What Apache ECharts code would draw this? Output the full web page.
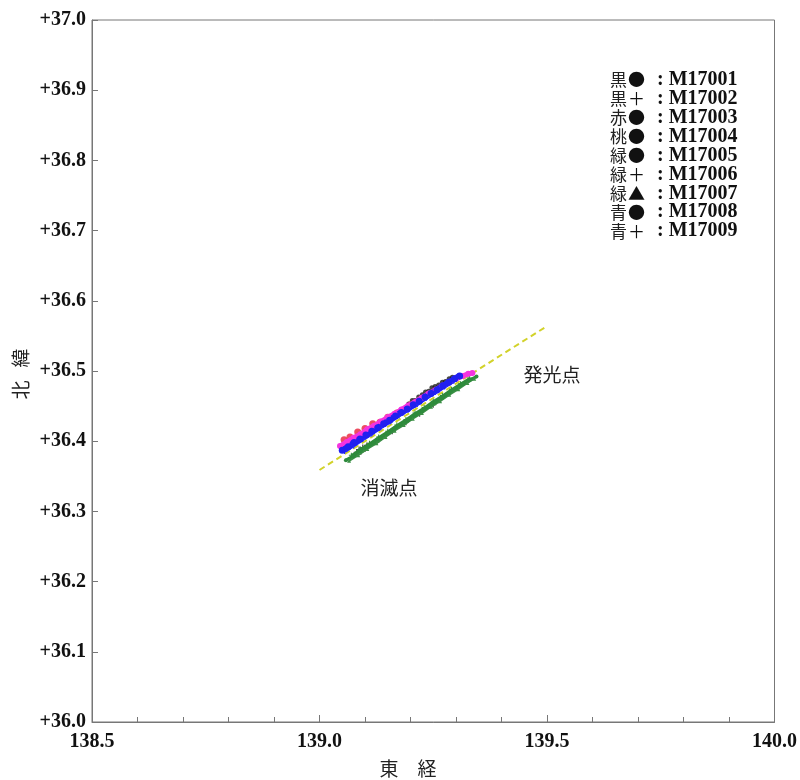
<!DOCTYPE html>
<html><head><meta charset="utf-8">
<script src="https://cdn.jsdelivr.net/npm/echarts@6/dist/echarts.min.js"></script>
<style>html,body{margin:0;padding:0;background:#fff}#c{width:800px;height:780px}</style>
</head><body><div id="c"></div>
<script>
// ---- data ----
const xTicks = [138.5, 139.0, 139.5, 140.0];
const yTicks = [36.0, 36.1, 36.2, 36.3, 36.4, 36.5, 36.6, 36.7, 36.8, 36.9, 37.0];
const trajectory = [[139.0, 36.359], [139.5, 36.564]];

const m17001 = [[139.196,36.453],[139.204,36.458],[139.210,36.458],[139.218,36.463],[139.226,36.466],[139.233,36.470],[139.240,36.471],[139.247,36.476],[139.254,36.478],[139.262,36.480],[139.270,36.484],[139.277,36.485],[139.285,36.489],[139.292,36.491]];
const m17002 = [[139.082,36.384],[139.087,36.388],[139.091,36.385],[139.095,36.391],[139.100,36.389],[139.104,36.394],[139.110,36.395],[139.130,36.402],[139.160,36.414],[139.190,36.427],[139.220,36.439],[139.250,36.452]];
const m17003 = [[139.054,36.402],[139.067,36.406],[139.084,36.413],[139.100,36.418],[139.117,36.425],[139.133,36.427],[139.150,36.434],[139.170,36.440],[139.200,36.452]];
const m17004 = [[139.045,36.393],[139.060,36.399],[139.075,36.405],[139.090,36.410],[139.105,36.417],[139.120,36.422],[139.135,36.428],[139.150,36.434],[139.165,36.439],[139.180,36.445],[139.195,36.451],[139.210,36.456],[139.225,36.462],[139.240,36.468],[139.255,36.473],[139.270,36.479],[139.285,36.484],[139.300,36.489],[139.315,36.493],[139.327,36.496],[139.336,36.497]];
const m17005 = [[139.058,36.373],[139.075,36.379],[139.090,36.386],[139.105,36.392],[139.120,36.398],[139.135,36.405],[139.150,36.411],[139.165,36.418],[139.180,36.424],[139.195,36.430],[139.210,36.437],[139.225,36.443],[139.240,36.449],[139.255,36.456],[139.270,36.462],[139.285,36.469],[139.300,36.475],[139.315,36.481],[139.330,36.487],[139.345,36.492]];
const m17006 = [[139.070,36.380],[139.090,36.389],[139.110,36.397],[139.130,36.406],[139.150,36.414],[139.170,36.423],[139.190,36.431],[139.210,36.440],[139.230,36.448],[139.250,36.457],[139.270,36.465],[139.290,36.474],[139.310,36.482],[139.330,36.490]];
const m17007 = [[139.065,36.372],[139.085,36.380],[139.105,36.389],[139.125,36.397],[139.145,36.406],[139.165,36.415],[139.185,36.423],[139.205,36.432],[139.225,36.440],[139.245,36.449],[139.265,36.457],[139.285,36.466],[139.305,36.474],[139.325,36.483],[139.340,36.489]];
const m17008 = [[139.050,36.387],[139.063,36.392],[139.076,36.398],[139.089,36.403],[139.102,36.409],[139.115,36.414],[139.128,36.419],[139.141,36.425],[139.154,36.430],[139.167,36.436],[139.180,36.441],[139.193,36.446],[139.206,36.452],[139.219,36.457],[139.232,36.463],[139.245,36.468],[139.258,36.473],[139.271,36.479],[139.284,36.484],[139.297,36.489],[139.308,36.493]];
const m17009 = [[139.055,36.386],[139.075,36.394],[139.095,36.403],[139.115,36.411],[139.135,36.420],[139.155,36.428],[139.175,36.437],[139.195,36.445],[139.215,36.453],[139.235,36.462],[139.255,36.470],[139.275,36.478],[139.295,36.486]];

const legendColorWords = ['黒','黒','赤','桃','緑','緑','緑','青','青'];
const legendMarks = ['●','＋','●','●','●','＋','▲','●','＋'];
const legendCodes = ['M17001','M17002','M17003','M17004','M17005','M17006','M17007','M17008','M17009'];
const annotations = [{text:'発光点', at:[139.511, 36.495]}, {text:'消滅点', at:[139.153, 36.333]}];
const xName = '東　経';
const yName = '北   緯';

// ---- chart ----
const PLUS = 'path://M4,0H6V4H10V6H6V10H4V6H0V4H4Z';
function sc(name, data, color, symbol, size) {
  return {name, type:'scatter', data, symbol, symbolSize:size, itemStyle:{color}, silent:true};
}
function band(name, data, color, symbol, size, width) {
  return {name, type:'line', data, symbol, symbolSize:size, showSymbol:true, itemStyle:{color}, lineStyle:{color, width}, silent:true};
}
const chart = echarts.init(document.getElementById('c'));
const serifBold = {fontFamily:'Liberation Serif', fontWeight:'bold', fontSize:20, color:'#111'};
chart.setOption({
  animation:false,
  grid:{left:92, right:25, top:20, bottom:58, show:true, borderColor:'#777', borderWidth:1},
  xAxis:{type:'value', min:138.5, max:140.0, interval:0.5,
    axisLine:{lineStyle:{color:'#777'}}, axisTick:{inside:true, length:7, lineStyle:{color:'#777'}},
    minorTick:{show:true, splitNumber:5, length:5, lineStyle:{color:'#777'}},
    splitLine:{show:false},
    axisLabel:Object.assign({margin:10, formatter:v=>{const t=xTicks.find(t=>Math.abs(t-v)<1e-6); return t===undefined?'':t.toFixed(1);}}, serifBold)},
  yAxis:{type:'value', min:36.0, max:37.0, interval:0.1,
    axisLine:{lineStyle:{color:'#777'}}, axisTick:{inside:true, length:6, lineStyle:{color:'#777'}},
    splitLine:{show:false},
    axisLabel:Object.assign({margin:6, formatter:v=>{const t=yTicks.find(t=>Math.abs(t-v)<1e-6); return t===undefined?'':'+'+t.toFixed(1);}}, serifBold)},
  series:[
    {type:'line', data:trajectory, symbol:'none', lineStyle:{color:'#d2d22a', width:2, type:[6,4]}, silent:true},
    band('M17007', m17007, '#3b8f45', 'triangle', 4, 2),
    band('M17006', m17006, '#2f8a3a', PLUS, 5, 2),
    band('M17005', m17005, '#2e8b3c', 'circle', 4, 3),
    sc('M17003', m17003, '#e8203a', 'circle', 7),
    band('M17004', m17004, '#f533e0', 'circle', 6, 5),
    band('M17009', m17009, '#2a2aff', PLUS, 6, 4),
    band('M17008', m17008, '#2020f0', 'circle', 7, 6),
    sc('M17002', m17002, '#222', PLUS, 6),
    sc('M17001', m17001, '#1a1a1a', 'circle', 5)
  ]
});
function px(p){return chart.convertToPixel({gridIndex:0}, p);}
const cjk = {fontFamily:'Noto Sans CJK JP', fontSize:19, fill:'#222', align:'center', verticalAlign:'middle'};
chart.setOption({graphic:[
  ...annotations.map(a=>{const p=px(a.at); return {type:'text', x:p[0], y:p[1], style:Object.assign({text:a.text}, cjk)};}),
  {type:'text', x:408, y:769, style:Object.assign({text:xName}, cjk)},
  {type:'text', x:21, y:374, rotation:Math.PI/2, style:Object.assign({text:yName}, cjk)},
  ...legendCodes.map((code,i)=>({type:'text', x:610, y:80+i*18.9,
    style:{text:`{c|${legendColorWords[i]}}{s|${legendMarks[i]}}{m|: ${code}}`, verticalAlign:'middle',
      rich:{c:{fontFamily:'Noto Sans CJK JP', fontSize:17, fill:'#222', width:18},
            s:{fontFamily:'Noto Sans CJK JP', fontSize:17, fill:'#111', width:29},
            m:{fontFamily:'Liberation Serif', fontWeight:'bold', fontSize:20, fill:'#111'}}}}))
]});
</script></body></html>
